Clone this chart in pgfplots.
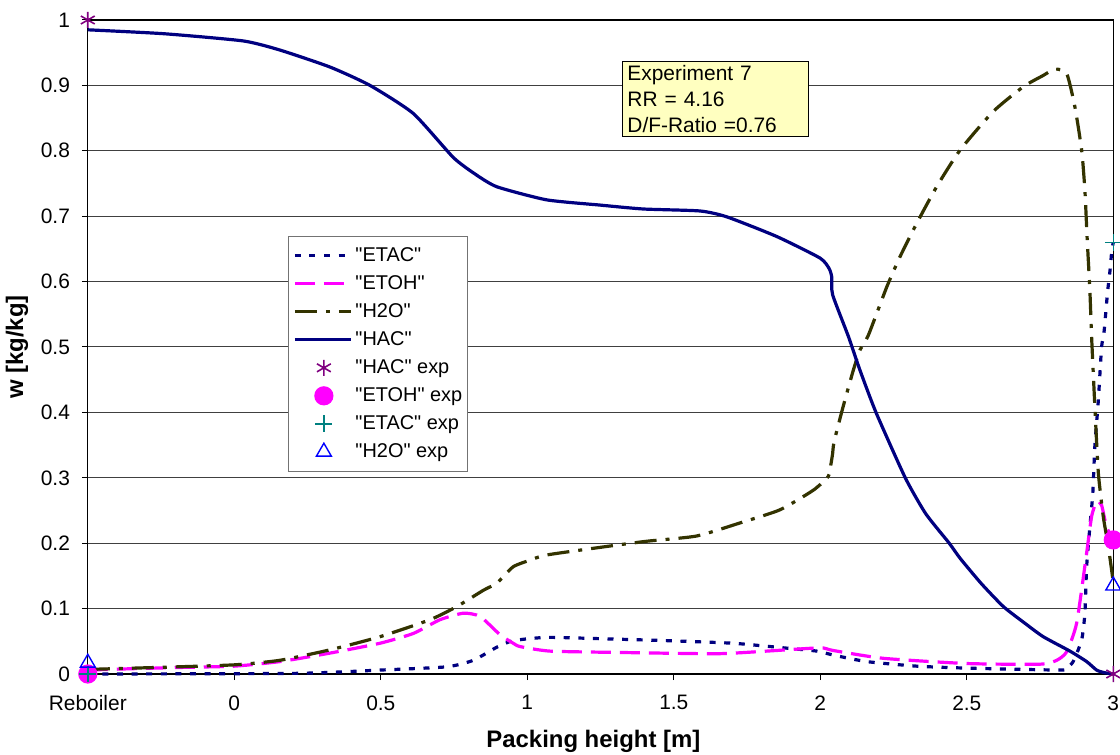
\documentclass[border=0pt]{standalone}
\usepackage{fontspec}
\setmainfont{Liberation Sans}
\usepackage{pgfplots}
\pgfplotsset{compat=1.18}
\definecolor{hac}{HTML}{000080}
\definecolor{etoh}{HTML}{FF00FF}
\definecolor{water}{HTML}{333300}
\definecolor{hacexp}{HTML}{800080}
\definecolor{etacexp}{HTML}{008080}
\definecolor{h2oexp}{HTML}{0000FF}
\definecolor{boxfill}{HTML}{FFFFC0}
\newcommand{\q}{\textquotedbl}
\pgfplotsset{
  lineleg/.style={legend image code/.code={\draw[##1] (0bp,0bp) -- (28bp,0bp);}},
  markleg/.style={legend image code/.code={\path (0bp,0bp) (28bp,0bp); \draw[mark repeat=2, mark phase=2, only marks, ##1] plot coordinates {(0bp,0bp) (14.5bp,0bp) (29bp,0bp)};}},
}
\begin{document}
\begin{tikzpicture}
\useasboundingbox (-43.9bp,-40.5bp) rectangle (516.1bp,337bp);
\begin{axis}[
  at={(0,0)}, anchor=south west,
  scale only axis, width=512.75bp, height=327bp,
  xmin=-0.5, xmax=3, ymin=0, ymax=1,
  clip=false,
  axis line style={black, line width=0.6bp},
  xtick={-0.5,0,0.5,1,1.5,2,2.5,3},
  xticklabels={Reboiler,0,0.5,1,1.5,2,2.5,3},
  ytick={0,0.1,0.2,0.3,0.4,0.5,0.6,0.7,0.8,0.9,1},
  yticklabels={0,0.1,0.2,0.3,0.4,0.5,0.6,0.7,0.8,0.9,1},
  /pgf/number format/assume math mode=true,
  ymajorgrids, grid style={black!75, line width=0.5bp},
  tick align=outside, tick pos=left, major tick length=3bp,
  tick style={black, line width=0.5bp},
  tick label style={font=\fontsize{10.5}{12}\selectfont},
  xticklabel style={inner sep=0pt, anchor=north, yshift=-7.5bp},
  yticklabel style={inner sep=0pt, anchor=east, xshift=-5.75bp},
  xlabel={Packing height [m]},
  ylabel={w [kg/kg]},
  x label style={at={(axis description cs:0.493,-0.1024)}, anchor=center, font=\bfseries\fontsize{12}{14}\selectfont},
  y label style={at={(axis description cs:-0.069,0.5)}, anchor=center, font=\bfseries\fontsize{12}{14}\selectfont},
  legend style={at={(0.195,0.670)}, anchor=north west, draw=black!55, line width=0.5bp, fill=white,
    font=\fontsize{10}{12}\selectfont, inner xsep=2.5bp, inner ysep=5bp, row sep=4.5bp, column sep=1.5bp,
    nodes={inner sep=0pt, text height=7.5bp, text depth=2bp}},
  legend cell align=left,
  every axis plot/.append style={line width=1.6bp},
]
% ETAC
\addplot[color=hac, dash pattern=on 3bp off 4.3bp, line cap=butt, smooth, tension=0.35, lineleg] coordinates {
(-0.5,0.0) (0.213,0.001) (0.497,0.006) (0.725,0.011) (0.816,0.021) (0.896,0.041)
(0.952,0.051) (1.066,0.056) (1.248,0.054) (1.476,0.051) (1.703,0.047) (1.874,0.040)
(1.988,0.035) (2.044,0.029) (2.158,0.019) (2.329,0.012) (2.5,0.009) (2.818,0.006)
(2.841,0.009) (2.863,0.019) (2.892,0.052) (2.903,0.093) (2.909,0.164) (2.92,0.225)
(2.93,0.276) (2.937,0.348) (2.949,0.419) (2.96,0.500) (2.968,0.521) (2.98,0.582)
(2.989,0.618) (2.995,0.648) (3.0,0.660)};
\addlegendentry{\q ETAC\q}
% ETOH
\addplot[color=etoh, dash pattern=on 10bp off 4.5bp, smooth, tension=0.35, lineleg] coordinates {
(-0.5,0.006) (-0.356,0.008) (-0.185,0.010) (0.0,0.012) (0.156,0.019) (0.327,0.032)
(0.497,0.047) (0.611,0.062) (0.702,0.083) (0.782,0.093) (0.839,0.088) (0.907,0.060)
(0.952,0.047) (0.975,0.042) (1.077,0.035) (1.305,0.033) (1.646,0.031) (1.817,0.035)
(1.999,0.040) (2.043,0.036) (2.215,0.024) (2.5,0.016) (2.75,0.015) (2.807,0.021)
(2.841,0.034) (2.875,0.078) (2.909,0.185) (2.926,0.241) (2.943,0.264) (2.96,0.258)
(2.977,0.225) (3.0,0.205)};
\addlegendentry{\q ETOH\q}
% H2O
\addplot[color=water, dash pattern=on 11bp off 4.5bp on 2bp off 4.5bp, smooth, tension=0.35, lineleg] coordinates {
(-0.5,0.007) (-0.265,0.010) (0.0,0.014) (0.156,0.021) (0.327,0.037) (0.497,0.057)
(0.668,0.083) (0.759,0.103) (0.85,0.128) (0.896,0.139) (0.952,0.164) (1.009,0.174)
(1.066,0.182) (1.271,0.195) (1.408,0.203) (1.578,0.211) (1.726,0.231) (1.862,0.251)
(1.976,0.281) (2.027,0.302) (2.036,0.320) (2.042,0.337) (2.047,0.355) (2.078,0.409)
(2.113,0.465) (2.135,0.495) (2.164,0.518) (2.227,0.592) (2.272,0.638) (2.329,0.689)
(2.397,0.745) (2.477,0.801) (2.59,0.860) (2.693,0.898) (2.76,0.915) (2.801,0.925)
(2.841,0.918) (2.869,0.867) (2.892,0.801) (2.903,0.740) (2.911,0.664) (2.92,0.587)
(2.926,0.515) (2.937,0.409) (2.949,0.307) (2.966,0.240) (2.983,0.195) (3.0,0.140)};
\addlegendentry{\q H2O\q}
% HAC
\addplot[color=hac, solid, smooth, tension=0.35, lineleg] coordinates {
(-0.5,0.985) (-0.24,0.979) (0.03,0.968) (0.156,0.954) (0.327,0.928) (0.463,0.900)
(0.611,0.857) (0.747,0.790) (0.82,0.765) (0.896,0.745) (1.066,0.725) (1.248,0.717)
(1.396,0.711) (1.589,0.708) (1.681,0.699) (1.851,0.669) (1.999,0.636) (2.030,0.620)
(2.039,0.607) (2.042,0.580) (2.096,0.516) (2.135,0.465) (2.19,0.400) (2.29,0.300)
(2.36,0.245) (2.44,0.200) (2.477,0.177) (2.55,0.138) (2.625,0.103) (2.70,0.077)
(2.761,0.057) (2.852,0.035) (2.909,0.019) (2.943,0.006) (2.97,0.002) (3.0,0.0)};
\addlegendentry{\q HAC\q}
% experimental points
\addplot[only marks, mark=asterisk, mark size=4bp, color=hacexp, line width=0.8bp,
  mark options={draw=hacexp, solid}, markleg] coordinates {
(-0.5,1.0) (3.0,0.0)};
\addlegendentry{\q HAC\q{} exp}
\addplot[only marks, mark=*, mark size=4bp, color=etoh, fill=etoh, markleg] coordinates {
(-0.5,0.0) (3.0,0.205)};
\addlegendentry{\q ETOH\q{} exp}
\addplot[only marks, mark=+, mark size=4.2bp, color=etacexp, line width=0.8bp,
  mark options={draw=etacexp, solid}, markleg] coordinates {
(-0.5,0.0) (3.0,0.66)};
\addlegendentry{\q ETAC\q{} exp}
\addplot[only marks, mark=triangle, mark size=4.3bp, color=h2oexp, line width=0.7bp,
  mark options={draw=h2oexp, solid}, markleg] coordinates {
(-0.5,0.017) (3.0,0.135)};
\addlegendentry{\q H2O\q{} exp}
\node[draw=black, line width=0.5bp, fill=boxfill, anchor=north west, inner xsep=2.5bp, inner ysep=2bp,
  text width=88bp, align=left, font=\fontsize{10.5}{13}\selectfont]
  at (axis cs:1.323,0.937) {Experiment 7\\RR = 4.16\\D/F-Ratio =0.76};
\end{axis}
\end{tikzpicture}
\end{document}
